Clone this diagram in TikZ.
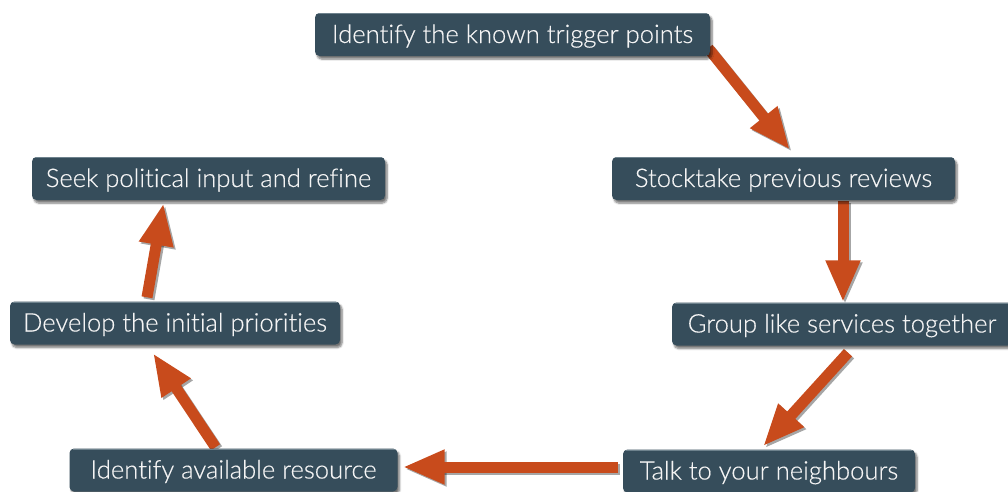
\documentclass[tikz,border=0pt]{standalone}
\usepackage{fontspec}
\setmainfont{Lato Light}[Ligatures=NoCommon, FakeBold=0.4]
\usetikzlibrary{arrows.meta,calc,shadows.blur}
\definecolor{boxfill}{HTML}{364D5B}
\definecolor{boxedge}{HTML}{6E828D}
\definecolor{flowc}{HTML}{C84B1C}
\definecolor{textc}{HTML}{F4F4F4}
\pgfdeclarelayer{bg}
\pgfsetlayers{bg,main}
\tikzset{
  stepbox/.style={rectangle, rounded corners=4.5pt, fill=boxfill,
    minimum height=43pt, inner sep=0pt, text=textc,
    text height=20pt, text depth=3pt,
    font=\fontsize{25.6}{28}\selectfont,
    blur shadow={shadow xshift=2pt, shadow yshift=-3pt,
      shadow blur steps=6, shadow opacity=55},
    path picture={\draw[boxedge, line width=1.4pt]
      ([xshift=3pt,yshift=-0.7pt]path picture bounding box.north west) --
      ([xshift=-3pt,yshift=-0.7pt]path picture bounding box.north east);}},
  flowshadow/.style={line width=11pt, draw=black, opacity=0.35,
    -{Triangle[length=42pt,width=32pt]}},
  flow/.style={line width=11pt, draw=flowc,
    -{Triangle[length=42pt,width=32pt]}}
}
\begin{document}
\begin{tikzpicture}[x=1pt,y=-1pt]
  \useasboundingbox (0,0) rectangle (1008,491);

  % process steps
  \node[stepbox, minimum width=395pt] (n1) at (512.5,34.5) {Identify the known trigger points};
  \node[stepbox, minimum width=343pt] (n2) at (783.5,178.5) {Stocktake previous reviews};
  \node[stepbox, minimum width=340pt] (n3) at (842,324) {Group like services together};
  \node[stepbox, minimum width=292pt] (n4) at (769,471) {Talk to your neighbours};
  \node[stepbox, minimum width=328pt] (n5) at (233.5,470) {Identify available resource};
  \node[stepbox, minimum width=330pt] (n6) at (175,323) {Develop the initial priorities};
  \node[stepbox, minimum width=353pt] (n7) at (208.5,178.5) {Seek political input and refine};

  % arrow ends
  \coordinate (t12) at ($(n1.south east)+(-2,-8)$);
  \coordinate (h12) at ($(n2.north)+(6.5,-7)$);
  \coordinate (t23) at ($(n2.south)+(59.5,1)$);
  \coordinate (h23) at ($(n3.north)+(1,0)$);
  \coordinate (t34) at ($(n3.south)+(6,7)$);
  \coordinate (h34) at ($(n4.north)+(-6,-3)$);
  \coordinate (t45) at ($(n4.west)+(-5,-4)$);
  \coordinate (h45) at ($(n5.east)+(5,-3)$);
  \coordinate (t56) at ($(n5.north)+(-18,-1)$);
  \coordinate (h56) at ($(n6.south)+(-22,8.5)$);
  \coordinate (t67) at ($(n6.north)+(-28,-4)$);
  \coordinate (h67) at ($(n7.south)+(-45,3)$);

  \begin{pgfonlayer}{bg}
    \foreach \a/\b in {t12/h12,t23/h23,t34/h34,t45/h45,t56/h56,t67/h67}{
      \draw[flowshadow] ([shift={(2,2)}]\a) -- ([shift={(2,2)}]\b);
      \draw[flow] (\a) -- (\b);
    }
  \end{pgfonlayer}
\end{tikzpicture}
\end{document}
